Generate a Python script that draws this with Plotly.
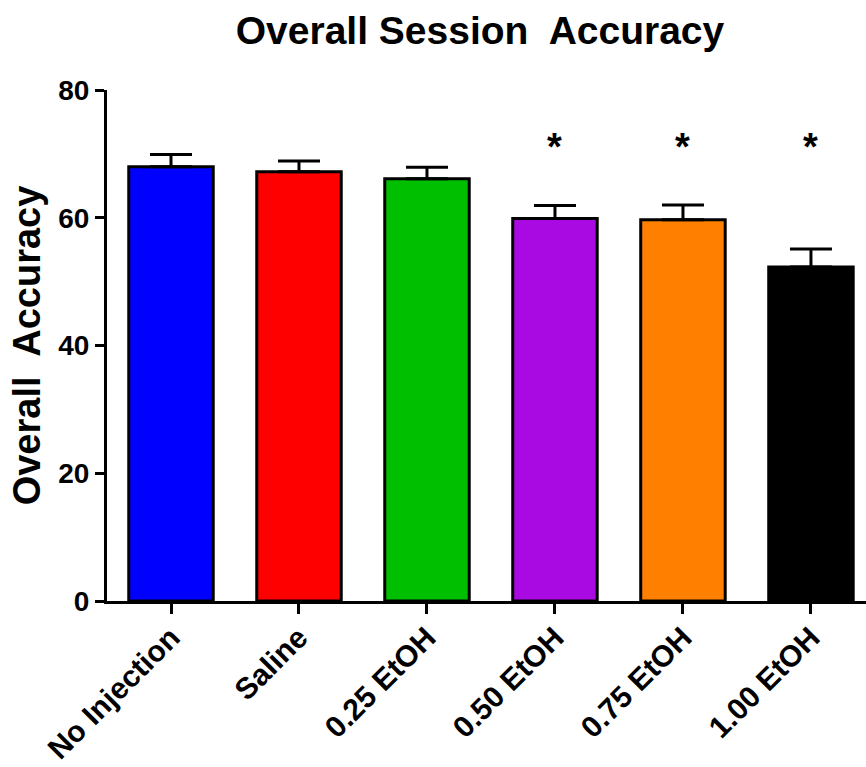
import plotly.graph_objects as go

# Group labels, means and SEM for overall session accuracy
groups = ["No Injection", "Saline", "0.25 EtOH", "0.50 EtOH", "0.75 EtOH", "1.00 EtOH"]
accuracy = [68.0, 67.2, 66.1, 59.9, 59.7, 52.3]
sem = [1.9, 1.7, 1.8, 2.0, 2.3, 2.8]
significant = [False, False, False, True, True, True]
bar_colors = ["#0000FF", "#FF0000", "#00BF00", "#AA0AE2", "#FF8000", "#000000"]

FONT = "Liberation Sans, Arial, Helvetica, sans-serif"

fig = go.Figure()
fig.add_trace(go.Bar(
    x=groups,
    y=accuracy,
    width=0.66,
    marker=dict(color=bar_colors, line=dict(color="black", width=3)),
    error_y=dict(type="data", symmetric=False, array=sem,
                 arrayminus=[0] * len(sem), color="black",
                 thickness=3, width=21),
    showlegend=False,
))

# Significance markers above the affected groups
for g, sig in zip(groups, significant):
    if sig:
        fig.add_annotation(x=g, y=71, text="<b>*</b>", showarrow=False,
                           font=dict(family=FONT, size=38, color="black"),
                           yanchor="middle")

fig.update_layout(
    width=866, height=767,
    paper_bgcolor="white", plot_bgcolor="white",
    margin=dict(l=107, r=0, t=90, b=166),
    title=dict(text="<b>Overall Session  Accuracy</b>", x=480 / 866, xanchor="center",
               y=1 - 30 / 767, yanchor="middle", yref="container",
               font=dict(family=FONT, size=39, color="black")),
    font=dict(family=FONT, color="black"),
)

fig.update_xaxes(
    range=[-0.5, 5.43], automargin=False,
    showline=True, linecolor="black", linewidth=3,
    ticks="outside", ticklen=10, tickwidth=3, tickcolor="black",
    tickangle=-45, ticklabelstandoff=-6,
    tickfont=dict(family=FONT, size=30, color="black", weight="bold"),
    showgrid=False, zeroline=False,
)
fig.update_yaxes(
    range=[0, 80], tickvals=[0, 20, 40, 60, 80], automargin=False,
    showline=True, linecolor="black", linewidth=3,
    ticks="outside", ticklen=9, tickwidth=3, tickcolor="black",
    tickfont=dict(family=FONT, size=28, color="black", weight="bold"),
    title=dict(text="<b>Overall  Accuracy</b>", standoff=6,
               font=dict(family=FONT, size=38, color="black")),
    showgrid=False, zeroline=False,
)

fig.write_html("out.html")
